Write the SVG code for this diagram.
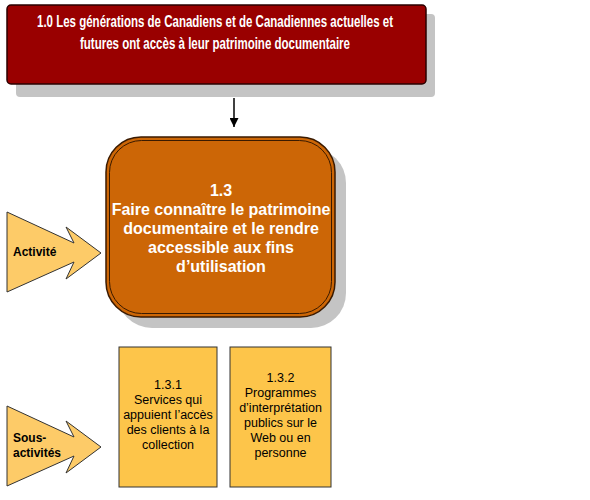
<svg xmlns="http://www.w3.org/2000/svg" width="590" height="500" viewBox="0 0 590 500">
<style>
.t{font-family:"Liberation Sans",Arial,sans-serif}
.shadow{fill:#c4c4c4}
.top{fill:#990000;stroke:#2a0000;stroke-width:1.5}
.wt{fill:#fff;font-weight:bold}
.act{fill:#cc6606;stroke:#3a1a00;stroke-width:1.5}
.arr{fill:#fdcb68;stroke:#333;stroke-width:1}
.sub{fill:#fdc54a;stroke:#333;stroke-width:1}
.bk{fill:#000}
</style>
<defs>
<marker id="ah" viewBox="0 0 10 10" refX="10" refY="5" markerWidth="9" markerHeight="9" markerUnits="userSpaceOnUse" orient="auto">
<path d="M0,0 L10,5 L0,10 z" fill="#000"/>
</marker>
</defs>
<rect width="590" height="500" fill="#fff"/>
<g id="node-1-0">
<rect class="shadow" x="16" y="14" width="419" height="83" rx="4"/>
<rect class="top" x="7" y="5" width="419" height="79" rx="4"/>
<text class="t wt" font-size="16" text-anchor="middle"><tspan x="215" y="27" textLength="356" lengthAdjust="spacingAndGlyphs">1.0 Les générations de Canadiens et de Canadiennes actuelles et</tspan><tspan x="215" y="49" textLength="270" lengthAdjust="spacingAndGlyphs">futures ont accès à leur patrimoine documentaire</tspan></text>
</g>
<g id="connectors">
<line x1="234" y1="98" x2="234" y2="127" stroke="#000" stroke-width="1.5" marker-end="url(#ah)"/>
</g>
<g id="node-1-3">
<rect class="shadow" x="117" y="148" width="229" height="180" rx="35"/>
<rect class="act" x="106" y="137" width="229" height="180" rx="35"/>
<rect x="109.5" y="140.5" width="222" height="173" rx="32" fill="none" stroke="#3a1a00" stroke-width="1"/>
<text class="t wt" font-size="16" text-anchor="middle"><tspan x="221" y="196">1.3</tspan><tspan x="221" y="215">Faire connaître le patrimoine</tspan><tspan x="221" y="234">documentaire et le rendre</tspan><tspan x="221" y="253">accessible aux fins</tspan><tspan x="221" y="272">d’utilisation</tspan></text>
</g>
<g id="label-activite">
<polygon class="arr" points="7,212 74,243 66,227 101,253 66,279 74,262 7,292"/>
<text class="t bk" font-size="12" font-weight="bold" x="13" y="256">Activité</text>
</g>
<g id="label-sous-activites">
<polygon class="arr" points="7,406 74,437 66,421 101,447 66,473 74,456 7,486"/>
<text class="t bk" font-size="12" font-weight="bold"><tspan x="13" y="442">Sous-</tspan><tspan x="13" y="457">activités</tspan></text>
</g>
<g id="node-1-3-1">
<rect class="sub" x="119" y="347" width="98" height="140"/>
<text class="t bk" font-size="12.5" text-anchor="middle"><tspan x="168" y="389">1.3.1</tspan><tspan x="168" y="404">Services qui</tspan><tspan x="168" y="419">appuient l’accès</tspan><tspan x="168" y="434">des clients à la</tspan><tspan x="168" y="449">collection</tspan></text>
</g>
<g id="node-1-3-2">
<rect class="sub" x="230" y="347" width="101" height="140"/>
<text class="t bk" font-size="12.5" text-anchor="middle"><tspan x="280.5" y="382">1.3.2</tspan><tspan x="280.5" y="397">Programmes</tspan><tspan x="280.5" y="412">d’interprétation</tspan><tspan x="280.5" y="427">publics sur le</tspan><tspan x="280.5" y="442">Web ou en</tspan><tspan x="280.5" y="457">personne</tspan></text>
</g>
</svg>
